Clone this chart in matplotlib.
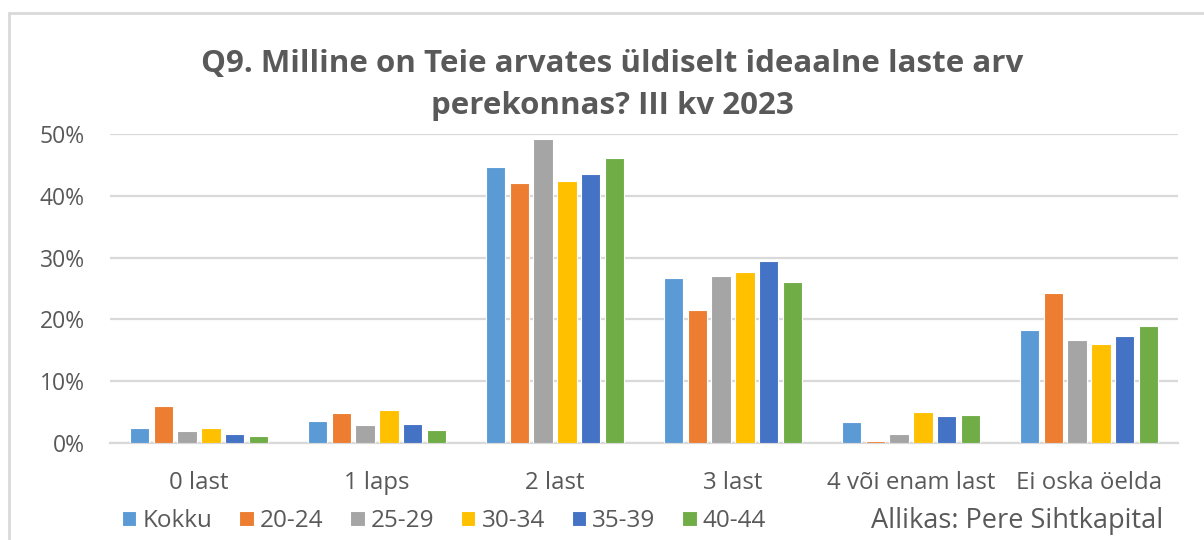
import matplotlib
matplotlib.use("Agg")
import matplotlib.pyplot as plt
import numpy as np
from matplotlib.patches import Rectangle

categories = ["0 last", "1 laps", "2 last", "3 last", "4 või enam last", "Ei oska öelda"]
series = ["Kokku", "20-24", "25-29", "30-34", "35-39", "40-44"]
kokku = [2.4, 3.6, 44.6, 26.7, 3.4, 18.3]
v20_24 = [6.0, 4.8, 42.0, 21.5, 0.3, 24.3]
v25_29 = [1.9, 2.9, 49.2, 27.0, 1.4, 16.6]
v30_34 = [2.4, 5.3, 42.4, 27.7, 5.0, 16.1]
v35_39 = [1.4, 3.1, 43.6, 29.4, 4.3, 17.3]
v40_44 = [1.2, 2.1, 46.1, 26.0, 4.5, 19.0]
yticks = [0, 10, 20, 30, 40, 50]
title_lines = ["Q9. Milline on Teie arvates üldiselt ideaalne laste arv",
               "perekonnas? III kv 2023"]

colors = ["#5B9BD5", "#ED7D31", "#A5A5A5", "#FFC000", "#4472C4", "#70AD47"]
GREY = "#595959"
W, H = 1204, 540

plt.rcParams["font.family"] = ["Open Sans", "DejaVu Sans"]

fig = plt.figure(figsize=(W / 100, H / 100), dpi=100)
# outer chart frame (cut at right/bottom as in the screenshot)
fig.add_artist(Rectangle((9 / W, -0.1), 1.2, 1 - 13 / H + 0.1, transform=fig.transFigure,
                         fill=False, edgecolor="#D9D9D9", lw=2))

ax = fig.add_axes([110 / W, (H - 443) / H, 1068 / W, 309 / H])
x = np.arange(len(categories))
pitch = 0.134
bw = 0.108
data = [kokku, v20_24, v25_29, v30_34, v35_39, v40_44]
handles = []
for i, (name, vals, c) in enumerate(zip(series, data, colors)):
    b = ax.bar(x + (i - 2.5) * pitch, vals, bw, color=c, edgecolor="white",
               linewidth=0.8, label=name, zorder=3)
    handles.append(b)

ax.set_xlim(-0.5, len(categories) - 0.5)
ax.set_ylim(0, 50)
ax.set_yticks(yticks)
ax.set_yticklabels([f"{t}%" for t in yticks])
ax.set_xticks(x, categories)
ax.yaxis.grid(True, color="#D9D9D9", lw=1.6, zorder=0)
ax.set_axisbelow(True)
for s in ["top", "right", "left"]:
    ax.spines[s].set_visible(False)
ax.spines["bottom"].set_color("#D9D9D9")
ax.spines["bottom"].set_linewidth(1.6)
ax.tick_params(axis="y", length=0, labelsize=16.5, labelcolor=GREY, pad=18)
ax.tick_params(axis="x", length=0, labelsize=17.3, labelcolor=GREY, pad=20)

fig.text(612 / W, 1 - 72 / H, title_lines[0], ha="center", va="baseline",
         fontsize=22.5, fontweight="bold", color=GREY)
fig.text(612 / W, 1 - 114 / H, title_lines[1], ha="center", va="baseline",
         fontsize=22.5, fontweight="bold", color=GREY)

fig.legend(handles=handles, loc="center left", bbox_to_anchor=(112 / W, 1 - 521 / H),
           ncol=6, frameon=False, fontsize=17.5, labelcolor=GREY,
           handlelength=0.6, handleheight=0.6, handletextpad=0.25,
           columnspacing=1.1, borderaxespad=0)

fig.text(1163 / W, 1 - 528 / H, "Allikas: Pere Sihtkapital", ha="right", va="baseline",
         fontsize=19.5, color=GREY)

fig.savefig("out.png", dpi=100)
